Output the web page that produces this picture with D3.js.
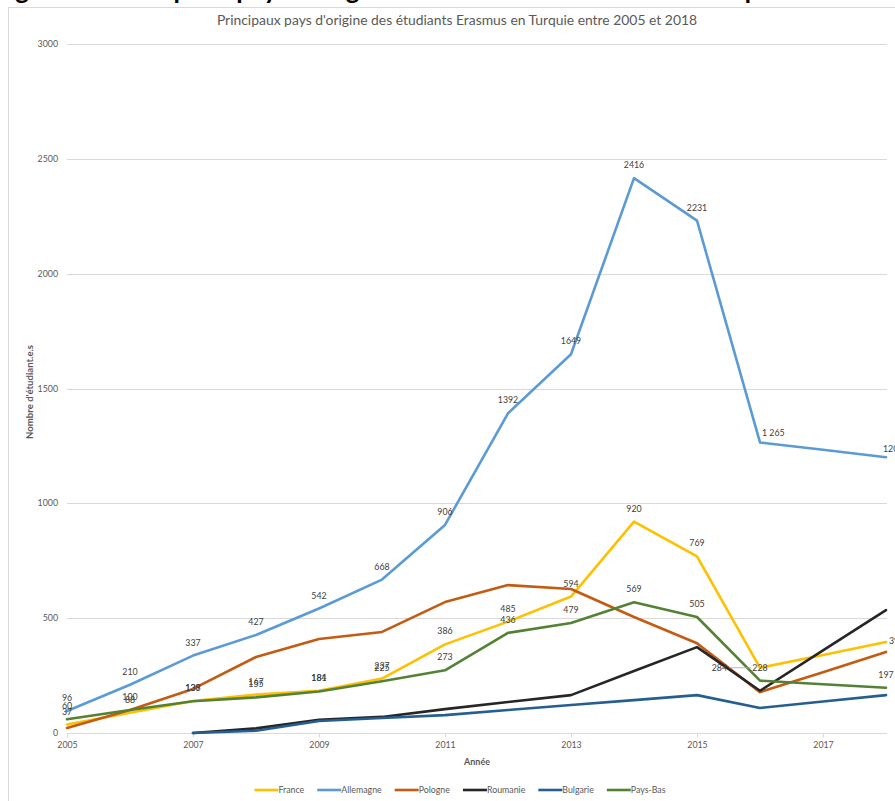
<!DOCTYPE html>
<html>
<head>
<meta charset="utf-8">
<script src="https://cdn.jsdelivr.net/npm/d3@7"></script>
<style>
  body { margin: 0; background: #fff; }
  svg { display: block; font-family: Lato, "Open Sans", sans-serif; }
</style>
</head>
<body>
<svg id="chart" width="895" height="801"></svg>
<script>
const years = [2005, 2006, 2007, 2008, 2009, 2010, 2011, 2012, 2013, 2014, 2015, 2016, 2017, 2018]
const yTicks = [0, 500, 1000, 1500, 2000, 2500, 3000]
const xTicks = [2005, 2007, 2009, 2011, 2013, 2015, 2017]

const france    = [37, 88, 139, 167, 184, 237, 386, 485, 594, 920, 769, 284, 340, 396]
const allemagne = [96, 210, 337, 427, 542, 668, 906, 1392, 1649, 2416, 2231, 1265, 1233, 1201]
const pologne   = [22, 100, 192, 331, 409, 440, 570, 644, 627, 505, 391, 178, 265, 353]
const roumanie  = [null, null, 0, 20, 57, 70, 104, 135, 165, 270, 374, 184, 360, 535]
const bulgarie  = [null, null, 0, 10, 52, 65, 78, 100, 122, 143, 165, 109, 137, 165]
const paysBas   = [60, 100, 138, 155, 181, 225, 273, 436, 479, 569, 505, 228, 212, 197]

// which years get a data label (Excel only showed some)
const labelled = {
    France: [2005, 2006, 2007, 2008, 2009, 2010, 2011, 2012, 2013, 2014, 2015, 2016, 2018],
    Allemagne: [2005, 2006, 2007, 2008, 2009, 2010, 2011, 2012, 2013, 2014, 2015, 2016, 2018],
    "Pays-Bas": [2005, 2006, 2007, 2008, 2009, 2010, 2011, 2012, 2013, 2014, 2015, 2016, 2018]
}

const series = [
    { name: "France", values: france, color: "#FFC000" },
    { name: "Allemagne", values: allemagne, color: "#5B9BD5" },
    { name: "Pologne", values: pologne, color: "#C55A11" },
    { name: "Roumanie", values: roumanie, color: "#262626" },
    { name: "Bulgarie", values: bulgarie, color: "#255E91" },
    { name: "Pays-Bas", values: paysBas, color: "#548235" }
]

const svg = d3.select("#chart")

// bit of the document heading cut off above the chart
svg.append("text")
    .attr("x", -6).attr("y", -1)
    .attr("font-size", 26).attr("font-weight", "bold").attr("fill", "#000")
    .text("Figure 3 : Principaux pays d'origine des étudiants Erasmus en Turquie")

// chart area border
svg.append("rect")
    .attr("x", 8.5).attr("y", 7.5).attr("width", 900).attr("height", 820)
    .attr("fill", "none").attr("stroke", "#d9d9d9")

const x = d3.scaleLinear().domain([2005, 2018]).range([67, 886])
const y = d3.scaleLinear().domain([0, 3000]).range([733, 44])

svg.append("text")
    .attr("x", 457).attr("y", 25)
    .attr("text-anchor", "middle").attr("font-size", 13.9).attr("fill", "#595959")
    .text("Principaux pays d'origine des étudiants Erasmus en Turquie entre 2005 et 2018")

//Gridlines + y labels
const yAxis = svg.append("g")
yAxis.selectAll("line").data(yTicks).join("line")
    .attr("x1", 67).attr("x2", 887)
    .attr("y1", d => Math.round(y(d)) + 0.5).attr("y2", d => Math.round(y(d)) + 0.5)
    .attr("stroke", "#d9d9d9").attr("stroke-width", 1)
yAxis.selectAll("text").data(yTicks).join("text")
    .attr("x", 58).attr("y", d => y(d) + 3)
    .attr("text-anchor", "end").attr("font-size", 8.8).attr("fill", "#595959")
    .text(d => d)

//x axis
const xAxis = svg.append("g").attr("transform", "translate(0,733.5)")
    .call(d3.axisBottom(x).tickValues(xTicks).tickFormat(d3.format("d")).tickSize(4).tickPadding(4))
xAxis.select(".domain").attr("stroke", "#d9d9d9").attr("d", "M67,0H887")
xAxis.selectAll(".tick line").attr("stroke", "#d9d9d9")
xAxis.selectAll(".tick text").attr("font-size", 8.8).attr("fill", "#595959")
    .attr("font-family", "Lato, 'Open Sans', sans-serif")

svg.append("text")
    .attr("x", 477).attr("y", 765)
    .attr("text-anchor", "middle").attr("font-size", 9).attr("font-weight", "bold").attr("fill", "#595959")
    .text("Année")

svg.append("text")
    .attr("transform", "translate(33,392) rotate(-90)")
    .attr("text-anchor", "middle").attr("font-size", 9.6).attr("font-weight", "bold").attr("fill", "#595959")
    .text("Nombre d'étudiant.e.s")

//Draw lines
const line = d3.line()
    .defined(d => d.v !== null)
    .x(d => x(d.year))
    .y(d => y(d.v))

const plot = svg.append("g")
series.forEach(s => {
    const pts = years.map((year, i) => ({ year, v: s.values[i] }))
    plot.append("path")
        .datum(pts)
        .attr("d", line)
        .attr("fill", "none")
        .attr("stroke", s.color)
        .attr("stroke-width", 2.6)
        .attr("stroke-linejoin", "round")
        .attr("stroke-linecap", "round")
})

//Data labels
const fmt = v => v === 1265 ? "1 265" : String(v)
const labels = svg.append("g").attr("font-size", 8.8).attr("fill", "#404040")
series.forEach(s => {
    const yrs = labelled[s.name] || []
    yrs.forEach(year => {
        const v = s.values[years.indexOf(year)]
        const px = x(year), py = y(v)
        let tx = px, ty = py - 10, anchor = "middle"
        if (s.name === "Allemagne" && year === 2016) { tx = px + 2; ty = py - 6; anchor = "start" }
        if (s.name === "Allemagne" && year === 2018) { tx = px - 3; ty = py - 5; anchor = "start" }
        if (s.name === "France" && year === 2018) { tx = px + 3; ty = py + 2; anchor = "start" }
        if (s.name === "France" && year === 2016) {
            tx = px - 33; ty = py + 3; anchor = "end"
            labels.append("line")
                .attr("x1", tx + 2).attr("x2", px - 9)
                .attr("y1", py).attr("y2", py)
                .attr("stroke", "#a6a6a6").attr("stroke-width", 0.8)
        }
        labels.append("text")
            .attr("x", tx).attr("y", ty)
            .attr("text-anchor", anchor)
            .text(fmt(v))
    })
})

//Legend
const legend = svg.append("g").attr("transform", "translate(0,790)")
let cx = 0
const items = []
series.forEach(s => {
    const g = legend.append("g")
    g.append("line").attr("x1", 0).attr("x2", 24).attr("y1", 0).attr("y2", 0)
        .attr("stroke", s.color).attr("stroke-width", 2.6)
    const t = g.append("text").attr("x", 24).attr("y", 3)
        .attr("font-size", 8.8).attr("fill", "#595959").text(s.name)
    items.push({ g, w: 24 + t.node().getComputedTextLength() })
})
const gap = 13
const total = d3.sum(items, d => d.w) + gap * (items.length - 1)
cx = 460 - total / 2
items.forEach(it => {
    it.g.attr("transform", `translate(${cx},0)`)
    cx += it.w + gap
})
</script>
</body>
</html>
